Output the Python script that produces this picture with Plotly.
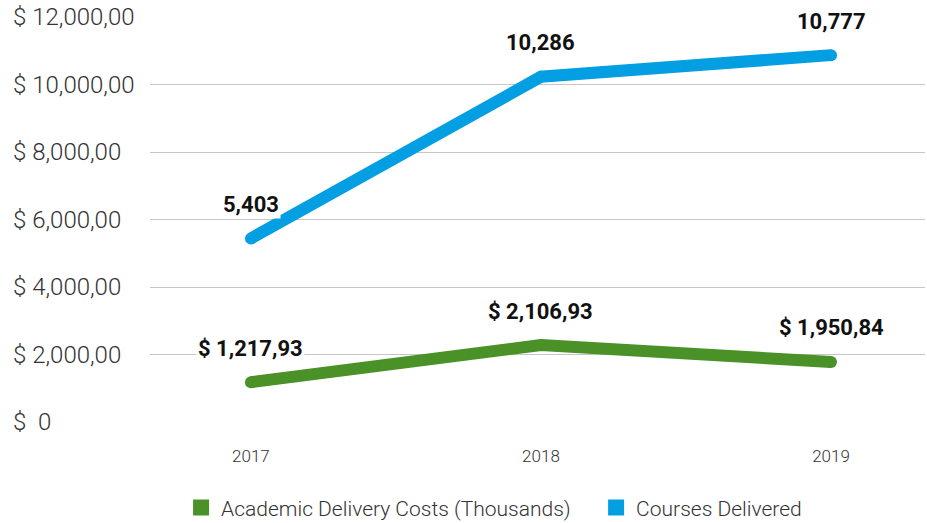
import plotly.graph_objects as go

years = ["2017", "2018", "2019"]
costs_values = [1180, 2280, 1780]
costs_labels = ["$ 1,217,93", "$ 2,106,93", "$ 1,950,84"]
courses_values = [5440, 10230, 10870]
courses_labels = ["5,403", "10,286", "10,777"]
y_tickvals = [0, 2000, 4000, 6000, 8000, 10000, 12000]
y_ticktext = ["$\u00a0\u00a00", "$ 2,000,00", "$ 4,000,00", "$ 6,000,00",
              "$ 8,000,00", "$ 10,000,00", "$ 12,000,00"]
series_names = ["Academic Delivery Costs (Thousands)", "Courses Delivered"]

GREEN = "#4A9127"
BLUE = "#039FE2"
FONT = "Roboto"

fig = go.Figure()

for vals, color in [(costs_values, GREEN), (courses_values, BLUE)]:
    fig.add_trace(go.Scatter(
        x=years, y=vals, mode="lines+markers", showlegend=False,
        line=dict(color=color, width=12),
        marker=dict(color=color, size=12, line=dict(width=0)),
        hoverinfo="skip",
    ))

legend_pad = ["\u00a0\u00a0\u00a0\u00a0", ""]
for name, pad, color in zip(series_names, legend_pad, [GREEN, BLUE]):
    fig.add_trace(go.Scatter(
        x=[None], y=[None], mode="markers", name=name + pad,
        marker=dict(symbol="square", size=18, color=color),
    ))

annotations = []
for vals, labels in [(costs_values, costs_labels), (courses_values, courses_labels)]:
    for i, (v, t) in enumerate(zip(vals, labels)):
        annotations.append(dict(
            x=i, y=v, xref="x", yref="y", text="<b>%s</b>" % t, showarrow=False,
            yshift=34, font=dict(family=FONT, size=22, color="#111111"),
            bgcolor="white", borderpad=1,
        ))

for v, t in zip(y_tickvals, y_ticktext):
    annotations.append(dict(
        x=-0.18, y=v, xref="paper", yref="y", text=t, showarrow=False,
        xanchor="left", yanchor="middle",
        font=dict(family=FONT, size=24, color="#333333", weight=300),
    ))

fig.update_layout(
    width=927, height=523,
    margin=dict(l=150, r=2, t=17, b=101),
    paper_bgcolor="white", plot_bgcolor="white",
    font=dict(family=FONT, color="#333333"),
    annotations=annotations,
    showlegend=True,
    legend=dict(
        orientation="h", xref="container", yref="container",
        x=0.533, xanchor="center", y=0.029, yanchor="middle",
        font=dict(family=FONT, size=21, color="#333333", weight=300),
        tracegroupgap=0,
    ),
    xaxis=dict(
        type="category", range=[-0.348, 2.324],
        showgrid=False, zeroline=False, showline=False,
        ticks="outside", ticklen=19, tickcolor="rgba(0,0,0,0)",
        tickfont=dict(family=FONT, size=17, color="#333333", weight=300),
    ),
    yaxis=dict(
        range=[0, 12000], tickvals=y_tickvals, showticklabels=False,
        showgrid=True, gridcolor="#C6C6C6", gridwidth=1,
        zeroline=False, showline=False,
    ),
)

fig.write_html("out.html", config={"displayModeBar": False},
               post_script="document.body.style.margin='0';")
